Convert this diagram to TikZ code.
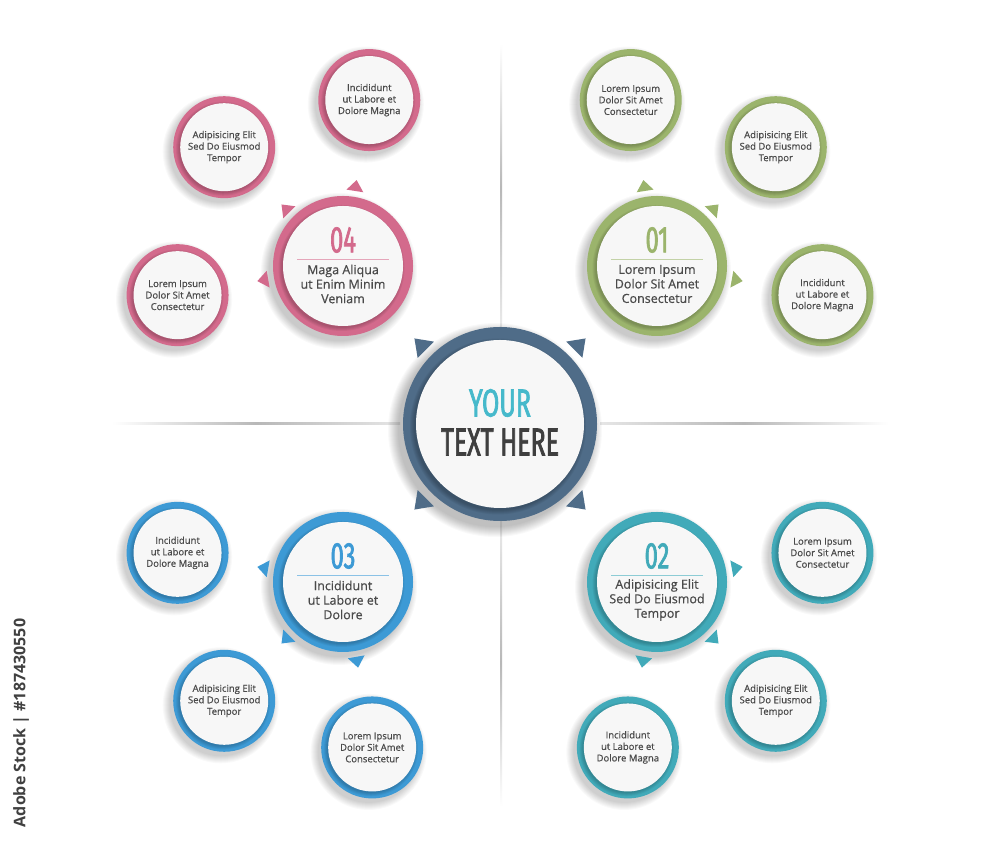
\documentclass[tikz,border=0pt]{standalone}
\usepackage{fontspec}
\setmainfont{Open Sans}
\newfontfamily\semi[FakeBold=0.6]{Open Sans}
\newfontfamily\cond[FakeStretch=0.64,FakeBold=1.8]{Fira Sans}
\usetikzlibrary{calc}
\definecolor{pinkc}{HTML}{D36A8C}
\definecolor{greenc}{HTML}{9BB46C}
\definecolor{tealc}{HTML}{41AAB9}
\definecolor{bluec}{HTML}{3D9AD5}
\definecolor{slatec}{HTML}{4F6C88}
\definecolor{cyanc}{HTML}{46B9CB}
\definecolor{darkc}{HTML}{3F3F3F}
\definecolor{txtc}{HTML}{4A4A4A}
\definecolor{innerc}{HTML}{F7F7F7}
\tikzset{
  shadowlayer/.style={fill=black,fill opacity=#1,draw=none},
  centerring/.style={circle,fill=slatec,minimum size=194pt,inner sep=0pt},
  centerinner/.style={circle,fill=innerc,minimum size=168pt,inner sep=0pt},
  mainring/.style={circle,fill=#1,minimum size=140pt,inner sep=0pt},
  maininner/.style={circle,fill=innerc,minimum size=120pt,inner sep=0pt},
  smallring/.style={circle,fill=#1,minimum size=102pt,inner sep=0pt},
  smallinner/.style={circle,fill=innerc,minimum size=88pt,inner sep=0pt,
     align=center,text=txtc,font=\semi\fontsize{9.5}{11.5}\selectfont},
  numtext/.style={text=#1,inner sep=0pt,font=\cond\fontsize{37}{37}\selectfont},
  maintext/.style={text=txtc,align=center,inner sep=0pt,font=\semi\fontsize{12.5}{14.5}\selectfont},
  sepline/.style={draw=#1!60,line width=1pt},
}
% soft shadow: #1 centre, #2 radius, #3 spread, #4 opacity per layer, #5 dx, #6 dy
\newcommand\softshadow[6]{%
  \foreach \k in {0,...,#3} {
    \fill[shadowlayer=#4] ($#1+(#5,#6)$) circle ({#2+#3-\k});
  }
}
\newcommand\maingroup[6]{%
  \softshadow{#2}{70}{8}{0.022}{-4}{-5}
  \node[mainring=#3] (#1) at #2 {};
  \softshadow{#2}{60}{3}{0.05}{-1.5}{-2}
  \node[maininner] (#1in) at (#1) {};
  \node[numtext=#3] (#1num) at ($(#1)+(0,26)$) {#4};
  \coordinate (#1sa) at ($(#1)+(-46,6)$);
  \coordinate (#1sb) at ($(#1)+(46,6)$);
  \draw[sepline=#3] (#1sa) -- (#1sb);
  \node[maintext] (#1txt) at ($(#1)+(0,-18)$) {#5};
  \foreach \a/\t [count=\i] in {#6} {
    \fill[#3] ($(#1)+(\a:87)$) -- ($(#1)+(\a:76)+(\a+90:8.5)$) -- ($(#1)+(\a:76)+(\a-90:8.5)$) -- cycle;
    \coordinate (#1p\i) at ($(#1)+(\a:168)$);
    \softshadow{(#1p\i)}{51}{7}{0.022}{-3.5}{-4.5}
    \node[smallring=#3] (#1s\i) at (#1p\i) {};
    \softshadow{(#1p\i)}{44}{3}{0.05}{-1.2}{-1.6}
    \node[smallinner] (#1s\i in) at (#1s\i) {\t};
  }
}
\begin{document}
\begin{tikzpicture}[x=1pt,y=1pt]
\useasboundingbox (0,0) rectangle (1000,850);
\fill[white] (0,0) rectangle (1000,850);
% dividers
\shade[top color=white,bottom color=black!8,middle color=black!28] (500,520) rectangle (502,806);
\shade[top color=black!8,bottom color=white,middle color=black!28] (500,44) rectangle (502,330);
\shade[left color=white,right color=black!10,middle color=black!28] (112,425) rectangle (400,427);
\shade[left color=black!10,right color=white,middle color=black!28] (600,425) rectangle (888,427);
% center
\softshadow{(500,426)}{97}{10}{0.022}{-5}{-6}
\node[centerring] (c) at (500,426) {};
\softshadow{(500,426)}{84}{4}{0.05}{-2}{-2.5}
\node[centerinner] (cin) at (c) {};
\foreach \a in {45,135,225,315} {
  \fill[slatec] ($(c)+(\a:121)$) -- ($(c)+(\a:105)+(\a+90:11.5)$) -- ($(c)+(\a:105)+(\a-90:11.5)$) -- cycle;
}
\node[text=cyanc,font=\cond\fontsize{39}{39}\selectfont,inner sep=0pt] (your) at (500,447) {YOUR};
\node[text=darkc,font=\cond\fontsize{39}{39}\selectfont,inner sep=0pt] (here) at (500,408) {TEXT HERE};
% groups
\maingroup{g4}{(343,584)}{pinkc}{04}{Maga Aliqua\\ut Enim Minim\\Veniam}
  {81/{Incididunt\\ut Labore et\\Dolore Magna},135/{Adipisicing Elit\\Sed Do Eiusmod\\Tempor},190/{Lorem Ipsum\\Dolor Sit Amet\\Consectetur}}
\maingroup{g1}{(657,584)}{greenc}{01}{Lorem Ipsum\\Dolor Sit Amet\\Consectetur}
  {99/{Lorem Ipsum\\Dolor Sit Amet\\Consectetur},45/{Adipisicing Elit\\Sed Do Eiusmod\\Tempor},-10/{Incididunt\\ut Labore et\\Dolore Magna}}
\maingroup{g3}{(343,268)}{bluec}{03}{Incididunt\\ut Labore et\\Dolore}
  {170/{Incididunt\\ut Labore et\\Dolore Magna},225/{Adipisicing Elit\\Sed Do Eiusmod\\Tempor},280/{Lorem Ipsum\\Dolor Sit Amet\\Consectetur}}
\maingroup{g2}{(657,268)}{tealc}{02}{Adipisicing Elit\\Sed Do Eiusmod\\Tempor}
  {10/{Lorem Ipsum\\Dolor Sit Amet\\Consectetur},-45/{Adipisicing Elit\\Sed Do Eiusmod\\Tempor},-100/{Incididunt\\ut Labore et\\Dolore Magna}}
% stock label
\node[rotate=90,text=black!75,font=\bfseries\fontsize{16}{16}\selectfont,inner sep=0pt] (stock) at (21,127) {Adobe Stock | \#187430550};
\end{tikzpicture}
\end{document}
